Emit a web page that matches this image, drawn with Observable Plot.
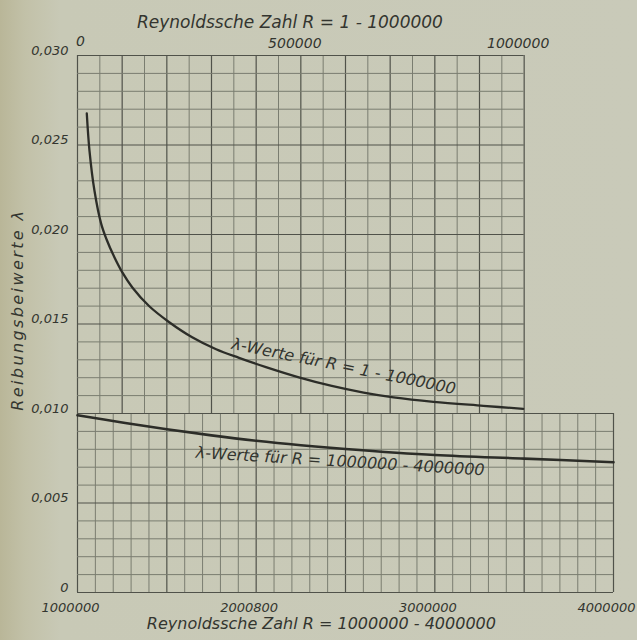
<!DOCTYPE html>
<html>
<head>
<meta charset="utf-8">
<script src="https://cdn.jsdelivr.net/npm/d3@7"></script>
<script src="https://cdn.jsdelivr.net/npm/@observablehq/plot@0.6"></script>
<style>
  html, body { margin: 0; padding: 0; }
  body {
    width: 637px; height: 640px; overflow: hidden;
    background: linear-gradient(to right, #b9b698 0px, #c2c1a8 25px, #c8c9b6 60px, #c9cab9 100%);
  }
</style>
</head>
<body>
<div id="chart"></div>
<script>
// --- Data ---
// Upper curve: lambda for R = 1 - 1000000 (top scale)
const upperR = [20800, 26800, 37900, 52900, 64700, 82600, 100400, 122800, 160700, 205400, 256700, 310300, 361600, 421900, 495500, 569200, 640600, 707600, 796900, 908500, 997800];
const upperLambda = [0.02676, 0.02469, 0.02246, 0.02061, 0.01975, 0.01873, 0.01788, 0.01704, 0.01599, 0.01510, 0.01426, 0.01359, 0.01311, 0.01259, 0.01202, 0.01154, 0.01117, 0.01090, 0.01065, 0.01043, 0.01026];
// Lower curve: lambda for R = 1000000 - 4000000 (bottom scale)
const lowerR = [1000000, 1250000, 1500000, 1750000, 2000000, 2250000, 2500000, 3000000, 3500000, 4000000];
const lowerLambda = [0.00990, 0.00950, 0.00912, 0.00878, 0.00848, 0.00823, 0.00802, 0.00768, 0.00748, 0.00728];

// Tick labels
const yTicks = [0, 0.005, 0.010, 0.015, 0.020, 0.025, 0.030];
const yTickLabels = ["0", "0,005", "0,010", "0,015", "0,020", "0,025", "0,030"];
const bottomTicks = [1000000, 2000000, 3000000, 4000000];
const bottomTickLabels = ["1000000", "2000800", "3000000", "4000000"];
const topTicks = [0, 500000, 1000000];
const topTickLabels = ["0", "500000", "1000000"];

const topTitle = "Reynoldssche Zahl R = 1 - 1000000";
const bottomTitle = "Reynoldssche Zahl R = 1000000 - 4000000";
const yTitle = "Reibungsbeiwerte λ";
const upperCurveLabel = "λ-Werte für R = 1 - 1000000";
const lowerCurveLabel = "λ-Werte für R = 1000000 - 4000000";

// top scale (0..1e6) mapped onto the bottom scale (1e6..3.5e6)
const toBottom = r => 1000000 + 2.5 * r;

const upper = upperR.map((r, i) => ({x: toBottom(r), y: upperLambda[i]}));
const lower = lowerR.map((r, i) => ({x: r, y: lowerLambda[i]}));

// grid ticks
const upGridX = d3.range(0, 1000001, 50000);
const upGridY = d3.range(10, 31, 1).map(v => v / 1000);
const loGridX = d3.range(1000000, 4000001, 100000);
const loGridY = d3.range(0, 11, 1).map(v => v / 1000);

const ink = "#33352f";
const minor = "#7a7d70";
const major = "#50524a";
const font = {fontFamily: "DejaVu Sans", fontStyle: "italic"};
const isMajorY = d => Math.round(d * 1000) % 5 === 0;

const chart = Plot.plot({
  width: 637,
  height: 640,
  marginLeft: 77,
  marginRight: 24,
  marginTop: 55,
  marginBottom: 48,
  style: {background: "transparent", fontFamily: "DejaVu Sans", fontStyle: "italic", color: ink},
  x: {domain: [1000000, 4000000], axis: null},
  y: {domain: [0, 0.030], axis: null},
  marks: [
    // upper grid
    Plot.ruleX(upGridX, {x: d => toBottom(d), y1: 0.010, y2: 0.030,
      stroke: d => d % 100000 === 0 ? major : minor, strokeWidth: d => d % 100000 === 0 ? 1.2 : 1}),
    Plot.ruleY(upGridY, {y: d => d, x1: 1000000, x2: 3500000,
      stroke: d => isMajorY(d) ? major : minor, strokeWidth: d => isMajorY(d) ? 1.2 : 1}),
    // lower grid
    Plot.ruleX(loGridX, {x: d => d, y1: 0, y2: 0.010,
      stroke: d => d % 500000 === 0 ? major : minor, strokeWidth: d => d % 500000 === 0 ? 1.2 : 1}),
    Plot.ruleY(loGridY, {y: d => d, x1: 1000000, x2: 4000000,
      stroke: d => isMajorY(d) ? major : minor, strokeWidth: d => isMajorY(d) ? 1.2 : 1}),
    // curves
    Plot.line(upper, {x: "x", y: "y", curve: "catmull-rom", stroke: "#2c2d28", strokeWidth: 2.3}),
    Plot.line(lower, {x: "x", y: "y", curve: "catmull-rom", stroke: "#2c2d28", strokeWidth: 2.6}),
    // axes
    Plot.axisY(yTicks, {anchor: "left", tickSize: 0, tickPadding: 9, dy: -5, label: null,
      tickFormat: (d, i) => yTickLabels[i], fontSize: 13, fill: ink, ...font}),
    Plot.axisX(bottomTicks, {anchor: "bottom", tickSize: 0, tickPadding: 10, dx: -7, label: null,
      tickFormat: (d, i) => bottomTickLabels[i], fontSize: 13, fill: ink, ...font}),
    Plot.axisX(topTicks.slice(1).map(toBottom), {anchor: "top", tickSize: 0, tickPadding: 8, dx: -6, label: null,
      tickFormat: (d, i) => topTickLabels[i + 1], fontSize: 14, fill: ink, ...font}),
    Plot.axisX([toBottom(topTicks[0])], {anchor: "top", tickSize: 0, tickPadding: 10, dx: 3, label: null,
      tickFormat: () => topTickLabels[0], fontSize: 14, fill: ink, ...font}),
    // titles
    Plot.text([topTitle], {x: 2189000, frameAnchor: "top", dy: -40, fontSize: 17, fill: ink, ...font}),
    Plot.text([bottomTitle], {x: 2365000, frameAnchor: "bottom", dy: 36, fontSize: 16, fill: ink, ...font}),
    Plot.text([yTitle], {y: 0.0158, frameAnchor: "left", textAnchor: "middle", dx: -60, rotate: -90, fontSize: 16, fill: ink, ...font}),
    // curve labels
    Plot.text([upperCurveLabel], {x: 2490000, y: 0.01263, rotate: 11.5, fontSize: 16, fill: ink, ...font}),
    Plot.text([lowerCurveLabel], {x: 2470000, y: 0.00732, rotate: 3.5, fontSize: 16, fill: ink, ...font})
  ]
});
// widen the spacing of the vertical axis title, as in the reference lettering
d3.select(chart).selectAll("text").filter(function() { return this.textContent === yTitle; })
  .attr("letter-spacing", "2.4px");
document.getElementById("chart").appendChild(chart);
</script>
</body>
</html>
